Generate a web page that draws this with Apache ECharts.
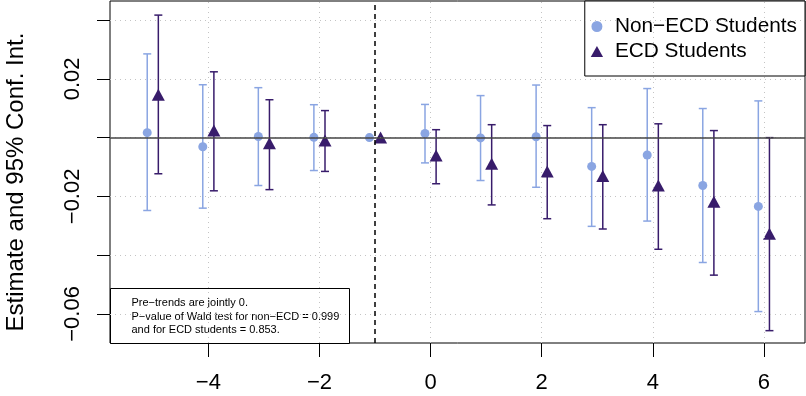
<!DOCTYPE html>
<html>
<head>
<meta charset="utf-8">
<script src="https://cdn.jsdelivr.net/npm/echarts@6/dist/echarts.min.js"></script>
<style>
  html, body { margin: 0; padding: 0; background: #fff; }
  #main { width: 806px; height: 396px; }
</style>
</head>
<body>
<div id="main"></div>
<script>
// event time relative to treatment
const events = [-5, -4, -3, -2, -1, 0, 1, 2, 3, 4, 5, 6];

// Non-ECD students: estimate, lower and upper 95% bound
const nonEst = [0.0017, -0.0031, 0.0004, 0.0001, 0, 0.0014, -0.0001, 0.0003, -0.0098, -0.0059, -0.0163, -0.0234];
const nonLo  = [-0.0248, -0.0240, -0.0163, -0.0112, null, -0.0086, -0.0146, -0.0169, -0.0302, -0.0284, -0.0425, -0.0592];
const nonHi  = [0.0285, 0.0180, 0.0170, 0.0112, null, 0.0113, 0.0143, 0.0179, 0.0102, 0.0167, 0.0099, 0.0125];

// ECD students
const ecdEst = [0.0146, 0.0024, -0.0019, -0.0010, 0, -0.0061, -0.0089, -0.0115, -0.0131, -0.0163, -0.0218, -0.0327];
const ecdLo  = [-0.0123, -0.0181, -0.0177, -0.0115, null, -0.0157, -0.0229, -0.0276, -0.0311, -0.0380, -0.0468, -0.0657];
const ecdHi  = [0.0417, 0.0224, 0.0129, 0.0092, null, 0.0027, 0.0044, 0.0041, 0.0044, 0.0047, 0.0024, 0.0000];

// ticks / labels
const xTicks = [-4, -2, 0, 2, 4, 6];
const yTicks = [-0.06, -0.04, -0.02, 0, 0.02, 0.04];
const yLabels = [-0.06, -0.02, 0.02];

const nonName = 'Non\u2212ECD Students';
const ecdName = 'ECD Students';
const noteLines = [
    'Pre\u2212trends are jointly 0.',
    'P\u2212value of Wald test for non\u2212ECD = 0.999',
    'and for ECD students = 0.853.'
];

const lightBlue = '#8aa5e2';
const darkPurple = '#381c6b';
const font = '"Liberation Sans", Arial, Helvetica, sans-serif';
const dodge = 0.1;

// legend icons, kept at their own aspect
const dotIcon = 'path://M5,0A5,5,0,1,1,4.99,0Z';
const triIcon = 'path://M0,10L5.6,0L11.2,10Z';

const minus = v => (v < 0 ? '\u2212' : '') + Math.abs(v);
const minusFixed = v => (v < 0 ? '\u2212' : '') + Math.abs(v).toFixed(2);

function errData (lo, hi, shift)
{
    const out = [];
    events.forEach(function (e, i)
    {
        if (lo[i] === null) return;
        out.push([e + shift, lo[i], hi[i]]);
    });
    return out;
}

function errRender (color)
{
    return function (params, api)
    {
        const x = api.value(0);
        const top = api.coord([x, api.value(2)]);
        const bot = api.coord([x, api.value(1)]);
        const w = 4;
        const style = { stroke: color, lineWidth: 1.5 };
        return {
            type: 'group',
            children: [
                { type: 'line', shape: { x1: top[0], y1: top[1], x2: bot[0], y2: bot[1] }, style },
                { type: 'line', shape: { x1: top[0] - w, y1: top[1], x2: top[0] + w, y2: top[1] }, style },
                { type: 'line', shape: { x1: bot[0] - w, y1: bot[1], x2: bot[0] + w, y2: bot[1] }, style }
            ]
        };
    };
}

var myChart = echarts.init(document.getElementById('main'), null, { renderer: 'canvas' });

var option = {
    animation: false,
    textStyle: { fontFamily: font },
    grid: {
        left: 110,
        right: 1,
        top: 1,
        bottom: 53,
        show: true,
        borderColor: '#000',
        borderWidth: 1
    },
    legend: {
        right: 1,
        top: 1,
        orient: 'vertical',
        backgroundColor: '#fff',
        borderColor: '#000',
        borderWidth: 1,
        padding: [15, 8, 14, 6],
        itemGap: 4,
        itemWidth: 26,
        itemHeight: 11,
        symbolKeepAspect: true,
        textStyle: { fontSize: 20.8, color: '#000', fontFamily: font },
        data: [
            { name: nonName, icon: dotIcon },
            { name: ecdName, icon: triIcon }
        ]
    },
    xAxis: {
        type: 'value',
        min: -5.77,
        max: 6.74,
        axisLine: { show: false, onZero: false },
        splitLine: { show: false },
        axisTick: {
            show: true,
            length: 14,
            customValues: xTicks,
            lineStyle: { color: '#000', width: 1 }
        },
        axisLabel: {
            customValues: xTicks,
            fontSize: 22,
            color: '#000',
            margin: 29,
            formatter: minus
        }
    },
    yAxis: {
        type: 'value',
        min: -0.0699,
        max: 0.0465,
        axisLine: { show: false, onZero: false },
        splitLine: { show: false },
        axisTick: {
            show: true,
            length: 13,
            customValues: yTicks,
            lineStyle: { color: '#000', width: 1 }
        },
        axisLabel: {
            customValues: yLabels,
            rotate: 90,
            fontSize: 22,
            color: '#000',
            margin: 26,
            formatter: minusFixed
        }
    },
    graphic: [
        {
            type: 'text',
            x: 16,
            y: 182,
            rotation: Math.PI / 2,
            style: {
                text: 'Estimate and 95% Conf. Int.',
                font: '24px ' + font,
                fill: '#000',
                align: 'center',
                verticalAlign: 'middle'
            }
        },
        {
            type: 'group',
            left: 110,
            top: 288,
            z: 100,
            children: [
                {
                    type: 'rect',
                    shape: { x: 0, y: 0, width: 239, height: 55 },
                    style: { fill: '#fff', stroke: '#000', lineWidth: 1 }
                },
                {
                    type: 'text',
                    x: 21,
                    y: 8,
                    style: {
                        text: noteLines.join('\n'),
                        font: '11px ' + font,
                        lineHeight: 13.5,
                        fill: '#000'
                    }
                }
            ]
        }
    ],
    series: [
        {
            // dotted grid
            type: 'line',
            data: [],
            z: 1,
            silent: true,
            markLine: {
                silent: true,
                symbol: 'none',
                label: { show: false },
                animation: false,
                lineStyle: { color: '#c4c4c4', type: [1, 4], width: 1 },
                data: xTicks.map(v => ({ xAxis: v })).concat(yTicks.map(v => ({ yAxis: v })))
            }
        },
        {
            // zero line and treatment marker
            type: 'line',
            data: [],
            z: 2,
            silent: true,
            markLine: {
                silent: true,
                symbol: 'none',
                label: { show: false },
                animation: false,
                data: [
                    { yAxis: 0, lineStyle: { color: '#444', type: 'solid', width: 1.5 } },
                    { xAxis: -1, lineStyle: { color: '#000', type: [5, 4], width: 1.5 } }
                ]
            }
        },
        {
            type: 'custom',
            name: 'nonCI',
            z: 3,
            renderItem: errRender(lightBlue),
            data: errData(nonLo, nonHi, -dodge),
            encode: { x: 0, y: [1, 2] }
        },
        {
            type: 'custom',
            name: 'ecdCI',
            z: 3,
            renderItem: errRender(darkPurple),
            data: errData(ecdLo, ecdHi, dodge),
            encode: { x: 0, y: [1, 2] }
        },
        {
            type: 'scatter',
            name: nonName,
            z: 4,
            symbol: 'circle',
            symbolSize: 9,
            itemStyle: { color: lightBlue, opacity: 1 },
            data: events.map((e, i) => [e - dodge, nonEst[i]])
        },
        {
            type: 'scatter',
            name: ecdName,
            z: 4,
            symbol: 'triangle',
            symbolSize: [13, 12],
            itemStyle: { color: darkPurple, opacity: 1 },
            data: events.map((e, i) => [e + dodge, ecdEst[i]])
        }
    ]
};

myChart.setOption(option);
</script>
</body>
</html>
